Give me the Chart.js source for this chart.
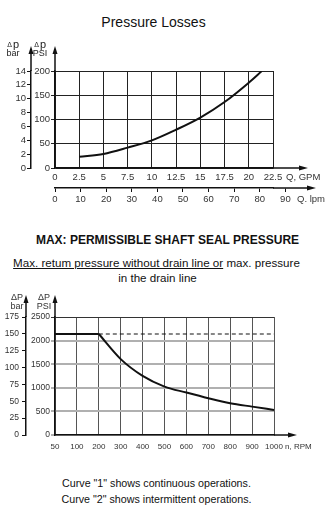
<!DOCTYPE html>
<html lang="en">
  <head>
    <meta charset="UTF-8" />
    <meta name="viewport" content="width=device-width, initial-scale=1.0" />
    <title>Pressure Losses</title>
    <style>
      body {
        margin: 0;
        background: #fff;
        font-family: Arial, "Liberation Sans", sans-serif;
        color: #111;
      }
      .page {
        position: relative;
        width: 327px;
        height: 512px;
        overflow: hidden;
      }
      .txt {
        position: absolute;
        left: 0;
        width: 327px;
        text-align: center;
        white-space: nowrap;
        line-height: 1;
      }
      canvas {
        position: absolute;
        left: 0;
      }
    </style>
  </head>
  <body>
    <div class="page">
      <div class="txt" style="top: 15px; left: -10px; font-size: 14px">Pressure Losses</div>
      <canvas id="lossChart" width="327" height="180" style="top: 30px"></canvas>

      <div class="txt" style="top: 234px; left: 4px; font-size: 12px; font-weight: bold">
        MAX: PERMISSIBLE SHAFT SEAL PRESSURE
      </div>
      <div class="txt" style="top: 257px; left: -7px; font-size: 11.6px">
        <u>Max. retum pressure without drain line or</u> max. pressure
      </div>
      <div class="txt" style="top: 272px; left: -6px; font-size: 11.6px">in the drain line</div>
      <canvas id="sealChart" width="327" height="170" style="top: 285px"></canvas>

      <div class="txt" style="top: 478px; left: -7px; font-size: 10.7px">Curve "1" shows continuous operations.</div>
      <div class="txt" style="top: 494px; left: -7px; font-size: 10.7px">Curve "2" shows intermittent operations.</div>
    </div>

    <script src="https://cdn.jsdelivr.net/npm/chart.js"></script>
    <script>
      // --- pressure losses: flow against pressure drop ---
      const gpmTicks = [0, 2.5, 5, 7.5, 10, 12.5, 15, 17.5, 20, 22.5];
      const lpmTicks = [0, 10, 20, 30, 40, 50, 60, 70, 80, 90];
      const lossPsiTicks = [0, 50, 100, 150, 200];
      const lossBarTicks = [0, 2, 4, 6, 8, 10, 12, 14];
      const flowGpm = [2.5, 5, 7.5, 10, 12.5, 15, 17.5, 20, 21.35];
      const lossPsi = [23, 29, 42, 57, 79, 104, 136, 176, 200];
      const GPM_TO_LPM = 3.785;

      // --- shaft seal pressure against speed ---
      const rpmLabels = ["50", "100", "200", "300", "400", "500", "600", "700", "800", "900", "1000"];
      const sealPsiTicks = [0, 500, 1000, 1500, 2000, 2500];
      const sealBarTicks = [0, 25, 50, 75, 100, 125, 150, 175];
      const sealFlat = [2140, 2140, 2140, null, null, null, null, null, null, null, null];
      const sealCurve = [null, null, 2140, 1608, 1253, 1026, 899, 779, 673, 601, 531];
      const sealLimit = [null, null, 2140, 2140, 2140, 2140, 2140, 2140, 2140, 2140, 2140];

      Chart.defaults.font.family = 'Arial, "Liberation Sans", sans-serif';
      Chart.defaults.color = "#333";

      const INK = "#111";
      const setTicks = (list) => (s) => {
        s.ticks = list.map((value) => ({ value }));
      };
      const plain = (v) => String(v);

      function upArrow(ctx, x, yFrom, tip) {
        ctx.beginPath();
        ctx.moveTo(x, yFrom);
        ctx.lineTo(x, tip + 6);
        ctx.stroke();
        ctx.beginPath();
        ctx.moveTo(x - 2.5, tip + 8);
        ctx.lineTo(x + 2.5, tip + 8);
        ctx.lineTo(x, tip);
        ctx.closePath();
        ctx.fill();
      }

      function rightArrow(ctx, y, xFrom, tip) {
        ctx.beginPath();
        ctx.moveTo(xFrom, y);
        ctx.lineTo(tip - 6, y);
        ctx.stroke();
        ctx.beginPath();
        ctx.moveTo(tip - 9, y - 2.5);
        ctx.lineTo(tip - 9, y + 2.5);
        ctx.lineTo(tip, y);
        ctx.closePath();
        ctx.fill();
      }

      // small delta + letter above the unit name
      function heading(ctx, cx, y, letter, unit, big) {
        ctx.textBaseline = "middle";
        ctx.textAlign = "right";
        ctx.font = (big ? 7 : 9) + "px Arial, 'Liberation Sans', sans-serif";
        ctx.fillText("\u0394", cx - (big ? 1 : 0), y + (big ? 1 : 0));
        ctx.textAlign = "left";
        ctx.font = (big ? 11 : 9) + "px Arial, 'Liberation Sans', sans-serif";
        ctx.fillText(letter, cx, y);
        ctx.textAlign = "center";
        ctx.font = "9px Arial, 'Liberation Sans', sans-serif";
        ctx.fillText(unit, cx, y + 9);
      }

      const lossDecor = {
        id: "lossDecor",
        afterDraw(chart) {
          const { ctx, chartArea: a, scales } = chart;
          ctx.save();
          ctx.strokeStyle = INK;
          ctx.fillStyle = INK;
          ctx.lineWidth = 1.5;
          upArrow(ctx, scales.bar.right, a.top, 16);
          upArrow(ctx, scales.y.right, a.top, 16);
          rightArrow(ctx, a.bottom, a.right, 308);
          rightArrow(ctx, scales.x2.top, a.right, 316);
          ctx.fillStyle = "#222";
          heading(ctx, 13, 14.5, "p", "bar", true);
          heading(ctx, 40, 14.5, "p", "PSI", true);
          ctx.font = "9.5px Arial, 'Liberation Sans', sans-serif";
          ctx.textAlign = "left";
          ctx.textBaseline = "middle";
          ctx.fillStyle = "#333";
          ctx.fillText("Q, GPM", 286, a.bottom + 9);
          ctx.fillText("Q. lpm", 297, scales.x2.top + 11);
          ctx.restore();
        },
      };

      new Chart(document.getElementById("lossChart"), {
        type: "line",
        data: {
          datasets: [
            {
              data: flowGpm.map((x, i) => ({ x, y: lossPsi[i] })),
              borderColor: INK,
              borderWidth: 2,
              pointRadius: 0,
              cubicInterpolationMode: "monotone",
              fill: false,
            },
          ],
        },
        options: {
          responsive: false,
          animation: false,
          events: [],
          layout: { padding: { left: 0, right: 54, top: 41, bottom: 2 } },
          plugins: { legend: { display: false }, tooltip: { enabled: false } },
          scales: {
            x: {
              type: "linear",
              min: 0,
              max: 22.5,
              afterBuildTicks: setTicks(gpmTicks),
              afterFit: (s) => { s.height = 20; },
              grid: { color: "#222", lineWidth: 1, drawTicks: false },
              border: { color: INK, width: 1.5 },
              ticks: { padding: 4, font: { size: 9.5 }, callback: plain, autoSkip: false, maxRotation: 0 },
            },
            x2: {
              type: "linear",
              position: "bottom",
              weight: 1,
              min: 0,
              max: 22.5 * GPM_TO_LPM,
              afterBuildTicks: setTicks(lpmTicks),
              afterFit: (s) => { s.height = 20; },
              grid: { drawOnChartArea: false, color: INK, tickLength: 4 },
              border: { color: INK, width: 1.5 },
              ticks: { padding: 2, font: { size: 9.5 }, callback: plain, autoSkip: false, maxRotation: 0 },
            },
            y: {
              type: "linear",
              min: 0,
              max: 200,
              afterBuildTicks: setTicks(lossPsiTicks),
              afterFit: (s) => { s.width = 24; },
              grid: { color: "#222", lineWidth: 1, tickLength: 4 },
              border: { color: INK, width: 1.5 },
              ticks: { padding: 1, font: { size: 9.5 }, callback: plain, autoSkip: false },
            },
            bar: {
              type: "linear",
              position: "left",
              weight: 1,
              min: 0,
              max: 14,
              afterBuildTicks: setTicks(lossBarTicks),
              afterFit: (s) => { s.width = 31; },
              grid: { drawOnChartArea: false, color: INK, tickLength: 4 },
              border: { color: INK, width: 1.5 },
              ticks: { padding: 1, font: { size: 9.5 }, callback: plain, autoSkip: false },
            },
          },
        },
        plugins: [lossDecor],
      });

      const sealDecor = {
        id: "sealDecor",
        afterDraw(chart) {
          const { ctx, chartArea: a, scales } = chart;
          ctx.save();
          ctx.strokeStyle = INK;
          ctx.fillStyle = INK;
          ctx.lineWidth = 1.5;
          upArrow(ctx, scales.bar.right, a.top, 10);
          upArrow(ctx, scales.y.right, a.top, 10);
          rightArrow(ctx, a.bottom, a.right, 297);
          ctx.fillStyle = "#333";
          heading(ctx, 17, 12.5, "P", "bar", false);
          heading(ctx, 44, 12.5, "P", "PSI", false);
          ctx.font = "8px Arial, 'Liberation Sans', sans-serif";
          ctx.textAlign = "left";
          ctx.textBaseline = "middle";
          ctx.fillText("n, RPM", 285, a.bottom + 12);
          ctx.restore();
        },
      };

      const lineStyle = { borderColor: INK, borderWidth: 2, pointRadius: 0, fill: false, spanGaps: false };

      new Chart(document.getElementById("sealChart"), {
        type: "line",
        data: {
          labels: rpmLabels,
          datasets: [
            { ...lineStyle, data: sealLimit, borderWidth: 1.2, borderDash: [4, 3] },
            { ...lineStyle, data: sealFlat },
            { ...lineStyle, data: sealCurve, cubicInterpolationMode: "monotone" },
          ],
        },
        options: {
          responsive: false,
          animation: false,
          events: [],
          layout: { padding: { left: 0, right: 53, top: 32, bottom: 0 } },
          plugins: { legend: { display: false }, tooltip: { enabled: false } },
          scales: {
            x: {
              type: "category",
              offset: false,
              afterFit: (s) => { s.height = 20; },
              grid: { color: "#555", lineWidth: 1, drawTicks: false },
              border: { color: INK, width: 1.5 },
              ticks: { padding: 7, font: { size: 8 }, autoSkip: false, maxRotation: 0 },
            },
            y: {
              type: "linear",
              min: 0,
              max: 2500,
              afterBuildTicks: setTicks(sealPsiTicks),
              afterFit: (s) => { s.width = 29; },
              grid: {
                color: (c) => (c.tick && c.tick.value === 2500 ? "#333" : "#b0b0b0"),
                lineWidth: (c) => (c.tick && c.tick.value === 2500 ? 1 : 2),
                tickLength: 4,
              },
              border: { color: INK, width: 1.5 },
              ticks: { padding: 1, font: { size: 8.5 }, callback: plain, autoSkip: false },
            },
            bar: {
              type: "linear",
              position: "left",
              weight: 1,
              min: 0,
              max: 175,
              afterBuildTicks: setTicks(sealBarTicks),
              afterFit: (s) => { s.width = 26; },
              grid: { drawOnChartArea: false, color: INK, tickLength: 4 },
              border: { color: INK, width: 1.5 },
              ticks: { padding: 3, font: { size: 8.5 }, callback: plain, autoSkip: false },
            },
          },
        },
        plugins: [sealDecor],
      });
    </script>
  </body>
</html>
